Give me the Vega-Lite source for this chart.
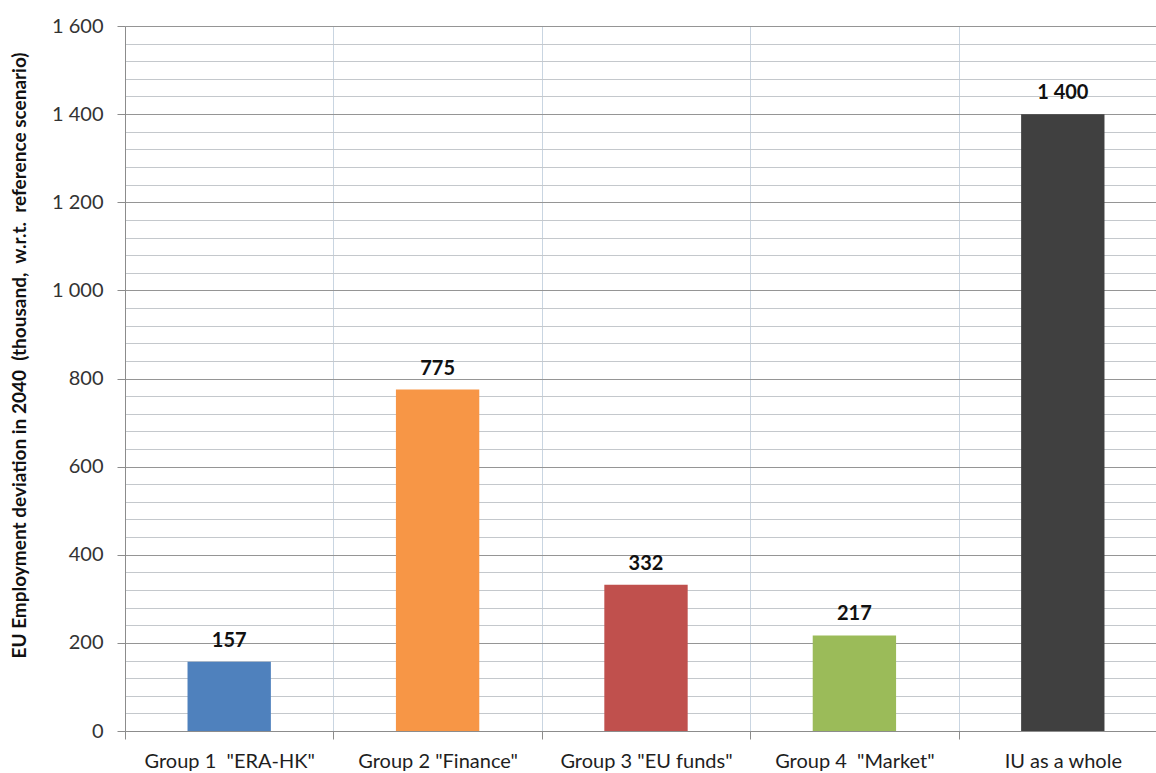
{
  "$schema": "https://vega.github.io/schema/vega-lite/v6.json",
  "width": 1031,
  "height": 705,
  "autosize": {"type": "none"},
  "padding": {"left": 125, "top": 26, "right": 0, "bottom": 42},
  "background": "white",
  "config": {
    "locale": {"number": {"decimal": ".", "thousands": " ", "grouping": [3], "currency": ["", ""]}},
    "view": {"stroke": null},
    "font": "Lato"
  },
  "data": {"values": [
    {"group": "Group 1 \u00a0\"ERA-HK\"", "value": 157, "color": "#4f81bd"},
    {"group": "Group 2 \"Finance\"", "value": 775, "color": "#f79646"},
    {"group": "Group 3 \"EU funds\"", "value": 332, "color": "#c0504d"},
    {"group": "Group 4 \u00a0\"Market\"", "value": 217, "color": "#9bbb59"},
    {"group": "IU as a whole", "value": 1400, "color": "#404040"}
  ]},
  "resolve": {"axis": {"y": "independent"}},
  "encoding": {
    "x": {
      "field": "group", "type": "nominal", "sort": null,
      "scale": {"range": [0, 1042], "paddingInner": 0, "paddingOuter": 0},
      "axis": {
        "title": null, "labelAngle": 0, "tickBand": "extent",
        "grid": true, "gridColor": "#c9d5e1", "gridWidth": 1,
        "domainColor": "#8c8c8c", "tickColor": "#8c8c8c", "tickSize": 8,
        "labelFont": "Lato", "labelFontSize": 20, "labelColor": "#1e1e1e",
        "labelPadding": 12
      }
    }
  },
  "layer": [
    {
      "mark": {"type": "bar", "width": {"band": 0.4}},
      "encoding": {
        "y": {
          "field": "value", "type": "quantitative",
          "scale": {"domain": [0, 1600], "nice": false},
          "axis": {
            "orient": "left", "zindex": 0,
            "title": null, "values": [40, 80, 120, 160, 240, 280, 320, 360, 440, 480, 520, 560, 640, 680, 720, 760, 840, 880, 920, 960, 1040, 1080, 1120, 1160, 1240, 1280, 1320, 1360, 1440, 1480, 1520, 1560],
            "labels": false, "ticks": false, "domain": false,
            "grid": true, "gridColor": "#c4c8cc", "gridWidth": 1
          }
        },
        "color": {"field": "color", "type": "nominal", "scale": null}
      }
    },
    {
      "mark": {"type": "text", "baseline": "middle", "dy": -21, "fontWeight": "bold", "fontSize": 20, "font": "Lato", "color": "#111111"},
      "encoding": {
        "y": {
          "field": "value", "type": "quantitative",
          "scale": {"domain": [0, 1600], "nice": false},
          "axis": {
            "orient": "left", "zindex": 0,
            "title": "EU Employment deviation in 2040 \u00a0(thousand, \u00a0w.r.t. \u00a0reference scenario)",
            "values": [0, 200, 400, 600, 800, 1000, 1200, 1400, 1600],
            "format": ",d",
            "grid": true, "gridColor": "#959595", "gridWidth": 1,
            "domainColor": "#8c8c8c", "tickColor": "#8c8c8c", "tickSize": 8,
            "labelFont": "Lato", "labelFontSize": 20, "labelColor": "#333333", "labelPadding": 14,
            "titleFont": "Lato", "titleFontSize": 19, "titleFontWeight": "bold", "titleColor": "#111111",
            "titleAngle": -90, "titleX": -106, "titleY": 329, "titleAnchor": null, "titleBaseline": "middle", "titleAlign": "center"
          }
        },
        "text": {"field": "value", "type": "quantitative", "format": ",d"}
      }
    }
  ]
}
